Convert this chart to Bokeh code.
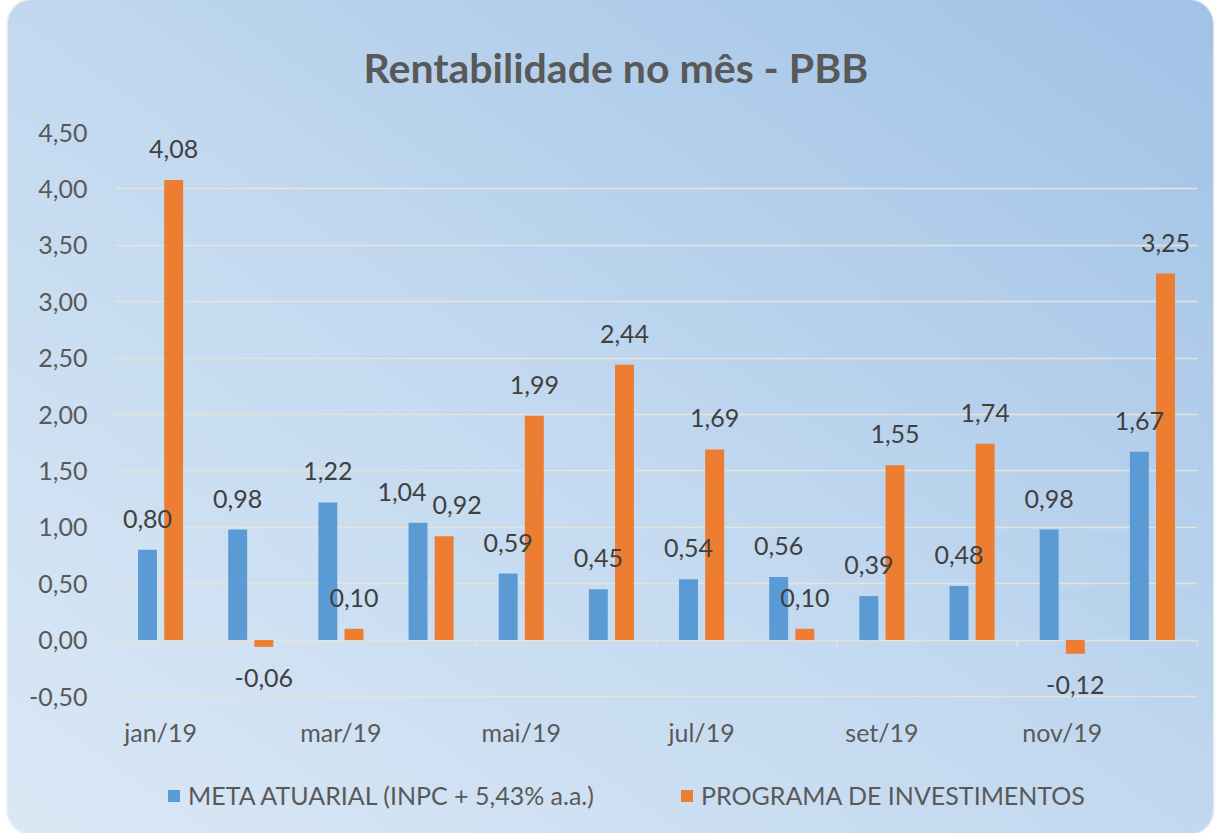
from bokeh.plotting import figure
from bokeh.models import ColumnDataSource, FixedTicker, Legend, LegendItem, Range1d
from bokeh.core.properties import value
from bokeh.embed import file_html
from bokeh.resources import INLINE

months = ["jan/19", "fev/19", "mar/19", "abr/19", "mai/19", "jun/19",
          "jul/19", "ago/19", "set/19", "out/19", "nov/19", "dez/19"]
meta = [0.80, 0.98, 1.22, 1.04, 0.59, 0.45, 0.54, 0.56, 0.39, 0.48, 0.98, 1.67]
programa = [4.08, -0.06, 0.10, 0.92, 1.99, 2.44, 1.69, 0.10, 1.55, 1.74, -0.12, 3.25]
y_ticks = [-0.5, 0.0, 0.5, 1.0, 1.5, 2.0, 2.5, 3.0, 3.5, 4.0, 4.5]
series_names = ["META ATUARIAL (INPC + 5,43% a.a.)", "PROGRAMA DE INVESTIMENTOS"]

# label nudges (pixels) to avoid overlap, as in the reference
meta_label_dx = [0, 0, 0, -16, 0, 0, 0, 0, 0, 0, 0, 0]
prog_label_dx = [0, 0, 0, 13, 0, 0, 0, 0, 0, 0, 0, 0]

BLUE = "#5b9bd5"
ORANGE = "#ed7d31"
FONT = "Lato"
GRID = "#e6e2dc"

n = len(months)
idx = list(range(n))
off = 0.145
bw = 0.21

# plot area: value axis spans 564 px; the frame extends below it to hold legend
axis_px = 564
frame_px = 694
y_end = y_ticks[-1]
y_start = y_end - (y_ticks[-1] - y_ticks[0]) * frame_px / axis_px

def fmt(v):
    return f"{v:.2f}".replace(".", ",")

def make_src(vals, shift, dx):
    xs = [i + shift for i in idx]
    pos = [v >= 0 for v in vals]
    return ColumnDataSource(dict(
        x=xs, top=vals,
        lbl=[fmt(v) for v in vals],
        dx=dx,
        dy=[-31 if p else 22 for p in pos],
        base=["alphabetic" if p else "top" for p in pos],
    ))

src_m = make_src(meta, -off, meta_label_dx)
src_p = make_src(programa, off, prog_label_dx)

p = figure(frame_width=1082, frame_height=frame_px, output_backend="svg", toolbar_location=None,
           x_range=Range1d(-0.5, n - 0.5), y_range=Range1d(y_start, y_end),
           min_border_left=107, min_border_right=16, min_border_top=131,
           min_border_bottom=8)

p.background_fill_alpha = 0
p.border_fill_alpha = 0
p.outline_line_color = None
p.styles = {
    "background": "linear-gradient(to top right, #dae8f5 0%, #c4daf0 45%, #a0c2e6 100%)",
    "border-radius": "24px",
    "box-shadow": "0 0 3px rgba(0,0,0,0.25)",
    "margin": "0px 0px 0px 8px",
}

# title
p.title.text = "Rentabilidade no mês - PBB"
p.title.align = "left"
p.title.text_font = FONT
p.title.text_font_size = "41px"
p.title.text_font_style = "bold"
p.title.text_color = "#595959"
p.title.offset = 248
p.title.standoff = 81

# grid
p.xgrid.grid_line_color = None
p.ygrid.grid_line_color = GRID
p.ygrid.grid_line_width = 1.5
p.ygrid.ticker = FixedTicker(ticks=y_ticks)

# y axis
p.yaxis.ticker = FixedTicker(ticks=y_ticks)
p.yaxis.major_label_overrides = {t: fmt(t) for t in y_ticks}
p.yaxis.axis_line_color = None
p.yaxis.major_tick_line_color = None
p.yaxis.minor_tick_line_color = None
p.yaxis.major_tick_out = 0
p.yaxis.major_label_standoff = 28
p.yaxis.major_label_text_font = FONT
p.yaxis.major_label_text_font_size = "25px"
p.yaxis.major_label_text_color = "#595959"

# x axis (labels sit just below the lowest value gridline)
xt = idx[::2]
p.xaxis.fixed_location = y_ticks[0]
p.xaxis.ticker = FixedTicker(ticks=xt)
p.xaxis.major_label_overrides = {i: months[i] for i in xt}
p.xaxis.axis_line_color = None
p.xaxis.major_tick_line_color = None
p.xaxis.minor_tick_line_color = None
p.xaxis.major_tick_out = 0
p.xaxis.major_label_standoff = 20
p.xaxis.major_label_text_font = FONT
p.xaxis.major_label_text_font_size = "25px"
p.xaxis.major_label_text_color = "#595959"

# category boundary ticks on the zero line
bx = [i - 0.5 for i in range(0, n + 1, 2)]
p.segment(x0=bx, x1=bx, y0=[0] * len(bx), y1=[-0.06] * len(bx),
          line_color=GRID, line_width=1.5)

r1 = p.vbar(x="x", top="top", bottom=0, width=bw, source=src_m,
            fill_color=BLUE, line_color=None)
r2 = p.vbar(x="x", top="top", bottom=0, width=bw, source=src_p,
            fill_color=ORANGE, line_color=None)

for src in (src_m, src_p):
    p.text(x="x", y="top", text="lbl", source=src, x_offset="dx", y_offset="dy",
           text_baseline="base", text_align="center",
           text_font=value(FONT), text_font_size="25px", text_color="#404040")

legend = Legend(items=[LegendItem(label=series_names[0], renderers=[r1]),
                       LegendItem(label=series_names[1], renderers=[r2])],
                orientation="horizontal", location=(51, 16),
                label_text_font=FONT, label_text_font_size="25px",
                label_text_color="#595959", glyph_width=15, glyph_height=15,
                spacing=85, background_fill_alpha=0, border_line_color=None,
                margin=0, padding=4, label_standoff=7)
p.add_layout(legend, "center")

open("out.html", "w").write(file_html(p, INLINE))
